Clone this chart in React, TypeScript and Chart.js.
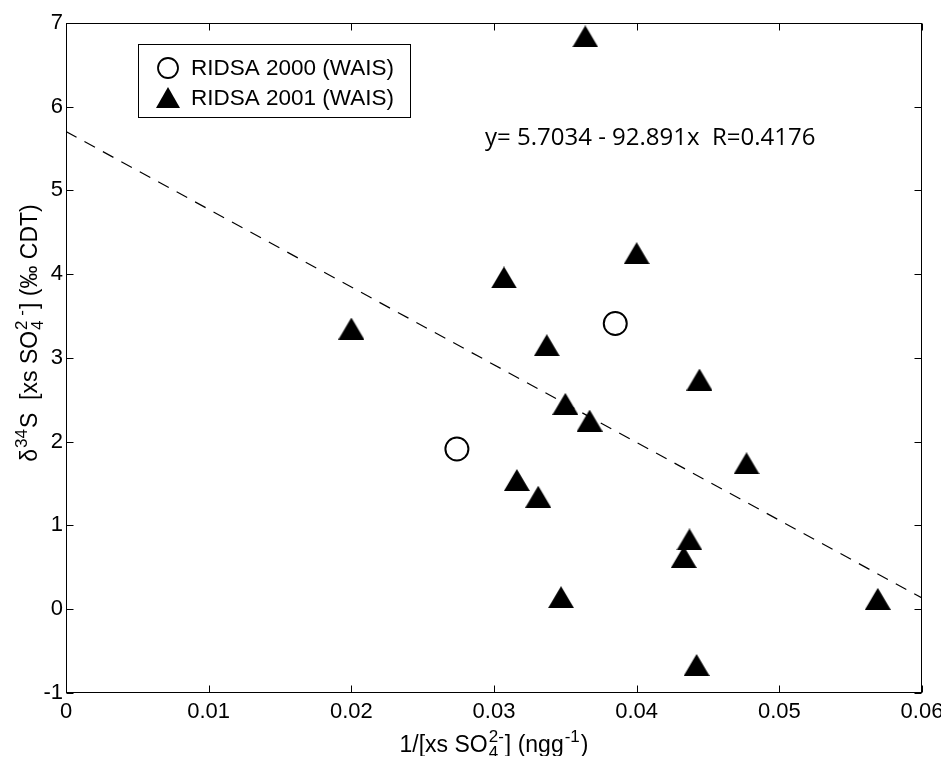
import React, { useEffect, useRef } from "react";
import { Chart, registerables } from "chart.js";

Chart.register(...registerables);

// ---- data ----
const ridsa2000X = [0.0274, 0.0385];
const ridsa2000Y = [1.91, 3.41];

const ridsa2001X = [0.02, 0.0307, 0.0316, 0.0331, 0.0337, 0.0347, 0.035, 0.0364, 0.0367, 0.04, 0.0433, 0.0437, 0.0442, 0.0444, 0.0477, 0.0569];
const ridsa2001Y = [3.35, 3.96, 1.54, 1.34, 3.15, 0.14, 2.45, 6.84, 2.25, 4.25, 0.62, 0.83, -0.67, 2.74, 1.74, 0.12];

const fitIntercept = 5.7034;
const fitSlope = -92.891;
const fitXRange = [0, 0.06];

const xTickValues = [0, 0.01, 0.02, 0.03, 0.04, 0.05, 0.06];
const xTickLabels = ["0", "0.01", "0.02", "0.03", "0.04", "0.05", "0.06"];
const yTickValues = [-1, 0, 1, 2, 3, 4, 5, 6, 7];
const yTickLabels = ["-1", "0", "1", "2", "3", "4", "5", "6", "7"];

const legendLabels = ["RIDSA 2000 (WAIS)", "RIDSA 2001 (WAIS)"];
const equationText = "y= 5.7034 - 92.891x  R=0.4176";

const FONT = "'Liberation Sans', Arial, Helvetica, sans-serif";

type Seg = { k: "n" | "sup" | "sub"; t: string } | { k: "ss"; sub: string; sup: string };

const xTitleSegs: Seg[] = [
  { k: "n", t: "1/[xs SO" },
  { k: "ss", sub: "4", sup: "2-" },
  { k: "n", t: "] (ngg" },
  { k: "sup", t: "-1" },
  { k: "n", t: ")" },
];
const yTitleSegs: Seg[] = [
  { k: "n", t: "\u03B4" },
  { k: "sup", t: "34" },
  { k: "n", t: "S  [xs SO" },
  { k: "ss", sub: "4", sup: "2 -" },
  { k: "n", t: "] (\u2030 CDT)" },
];

function drawRich(ctx: CanvasRenderingContext2D, segs: Seg[], x: number, y: number, size: number, draw: boolean): number {
  let cx = x;
  const small = Math.round(size * 0.72);
  for (const s of segs) {
    if (s.k === "n") {
      ctx.font = `${size}px ${FONT}`;
      if (draw) ctx.fillText(s.t, cx, y);
      cx += ctx.measureText(s.t).width;
    } else if (s.k === "sup") {
      ctx.font = `${small}px ${FONT}`;
      if (draw) ctx.fillText(s.t, cx + 1, y - size * 0.45);
      cx += ctx.measureText(s.t).width + 2;
    } else if (s.k === "sub") {
      ctx.font = `${small}px ${FONT}`;
      if (draw) ctx.fillText(s.t, cx + 1, y + size * 0.25);
      cx += ctx.measureText(s.t).width + 2;
    } else {
      ctx.font = `${small}px ${FONT}`;
      if (draw) {
        ctx.fillText(s.sub, cx + 1, y + size * 0.25);
        ctx.fillText(s.sup, cx + 1, y - size * 0.45);
      }
      cx += Math.max(ctx.measureText(s.sub).width, ctx.measureText(s.sup).width) + 2;
    }
  }
  return cx - x;
}

function makeTriangle(w: number, h: number): HTMLCanvasElement {
  const c = document.createElement("canvas");
  c.width = w;
  c.height = h;
  const g = c.getContext("2d")!;
  g.fillStyle = "#000";
  g.beginPath();
  g.moveTo(w / 2, 0);
  g.lineTo(w, h);
  g.lineTo(0, h);
  g.closePath();
  g.fill();
  return c;
}

export default function App() {
  const ref = useRef<HTMLCanvasElement | null>(null);

  useEffect(() => {
    if (!ref.current) return;
    const tri = makeTriangle(26, 22);
    const triLegend = makeTriangle(24, 21);

    const decor = {
      id: "decor",
      afterDraw(chart: any) {
        const { ctx, chartArea: a } = chart;
        const xs = chart.scales.x;
        const ys = chart.scales.y;
        ctx.save();
        ctx.strokeStyle = "#000";
        ctx.fillStyle = "#000";
        ctx.lineWidth = 1;
        const L = Math.round(a.left) + 0.5;
        const R = Math.round(a.right) - 0.5;
        const T = Math.round(a.top) + 0.5;
        const B = Math.round(a.bottom) - 0.5;
        ctx.strokeRect(L, T, R - L, B - T);
        const tl = 7;
        ctx.beginPath();
        for (const v of xTickValues) {
          const px = Math.round(xs.getPixelForValue(v)) + 0.5;
          ctx.moveTo(px, B);
          ctx.lineTo(px, B - tl);
          ctx.moveTo(px, T);
          ctx.lineTo(px, T + tl);
        }
        for (const v of yTickValues) {
          const py = Math.round(ys.getPixelForValue(v)) + 0.5;
          ctx.moveTo(L, py);
          ctx.lineTo(L + tl, py);
          ctx.moveTo(R, py);
          ctx.lineTo(R - tl, py);
        }
        ctx.stroke();

        // legend
        ctx.fillStyle = "#fff";
        ctx.fillRect(130.5, 36.5, 272, 73);
        ctx.strokeRect(130.5, 36.5, 272, 73);
        ctx.fillStyle = "#000";
        ctx.lineWidth = 1.8;
        ctx.beginPath();
        ctx.arc(160, 60, 10, 0, Math.PI * 2);
        ctx.stroke();
        ctx.drawImage(triLegend, 160 - 12, 90 - 11);
        ctx.font = `22.5px ${FONT}`;
        ctx.textBaseline = "middle";
        ctx.textAlign = "left";
        ctx.fillText(legendLabels[0], 183, 61);
        ctx.fillText(legendLabels[1], 183, 91);

        // equation
        ctx.font = `24px 'Open Sans', ${FONT}`;
        ctx.fillText(equationText, 477, 130);

        // axis titles
        ctx.textBaseline = "alphabetic";
        const size = 23;
        const wX = drawRich(ctx, xTitleSegs, 0, 0, size, false);
        const cxX = (a.left + a.right) / 2;
        drawRich(ctx, xTitleSegs, cxX - wX / 2, 744, size, true);

        const wY = drawRich(ctx, yTitleSegs, 0, 0, size, false);
        ctx.translate(29, 325);
        ctx.rotate(-Math.PI / 2);
        drawRich(ctx, yTitleSegs, -wY / 2, 0, size, true);
        ctx.restore();
      },
    };

    const chart = new Chart(ref.current, {
      type: "scatter",
      data: {
        datasets: [
          {
            label: legendLabels[0],
            data: ridsa2000X.map((x, i) => ({ x, y: ridsa2000Y[i] })),
            pointStyle: "circle",
            pointRadius: 11.5,
            borderWidth: 2,
            borderColor: "#000",
            backgroundColor: "rgba(255,255,255,0)",
            order: 1,
          },
          {
            label: legendLabels[1],
            data: ridsa2001X.map((x, i) => ({ x, y: ridsa2001Y[i] })),
            pointStyle: tri as any,
            pointRadius: 12,
            borderColor: "#000",
            backgroundColor: "#000",
            order: 0,
          },
          {
            label: "fit",
            type: "line" as any,
            data: fitXRange.map((x) => ({ x, y: fitIntercept + fitSlope * x })),
            showLine: true,
            borderColor: "#000",
            borderWidth: 1.2,
            borderDash: [12, 9],
            pointRadius: 0,
            fill: false,
            order: 2,
          } as any,
        ],
      },
      options: {
        animation: false,
        responsive: false,
        layout: { padding: { left: 0, top: 15, right: 19, bottom: 0 } },
        plugins: { legend: { display: false }, tooltip: { enabled: false } },
        scales: {
          x: {
            type: "linear",
            min: 0,
            max: 0.06,
            grid: { display: false, drawTicks: false },
            border: { display: false },
            ticks: {
              padding: 6,
              color: "#000",
              maxRotation: 0,
              autoSkip: false,
              font: { family: FONT, size: 22 },
              callback: (_v: any, i: number) => xTickLabels[i] ?? "",
            },
            afterBuildTicks: (s: any) => {
              s.ticks = xTickValues.map((v) => ({ value: v }));
            },
            afterFit: (s: any) => {
              s.height = 63.4;
              s.paddingLeft = 0;
              s.paddingRight = 0;
            },
          },
          y: {
            type: "linear",
            min: -1,
            max: 7,
            grid: { display: false, drawTicks: false },
            border: { display: false },
            ticks: {
              padding: 3,
              color: "#000",
              autoSkip: false,
              font: { family: FONT, size: 22 },
              callback: (_v: any, i: number) => yTickLabels[i] ?? "",
            },
            afterBuildTicks: (s: any) => {
              s.ticks = yTickValues.map((v) => ({ value: v }));
            },
            afterFit: (s: any) => {
              s.width = 58;
              s.paddingTop = 0;
              s.paddingBottom = 0;
            },
          },
        },
      },
      plugins: [decor],
    } as any);

    return () => chart.destroy();
  }, []);

  return <canvas ref={ref} width={933} height={748} style={{ display: "block" }} />;
}
